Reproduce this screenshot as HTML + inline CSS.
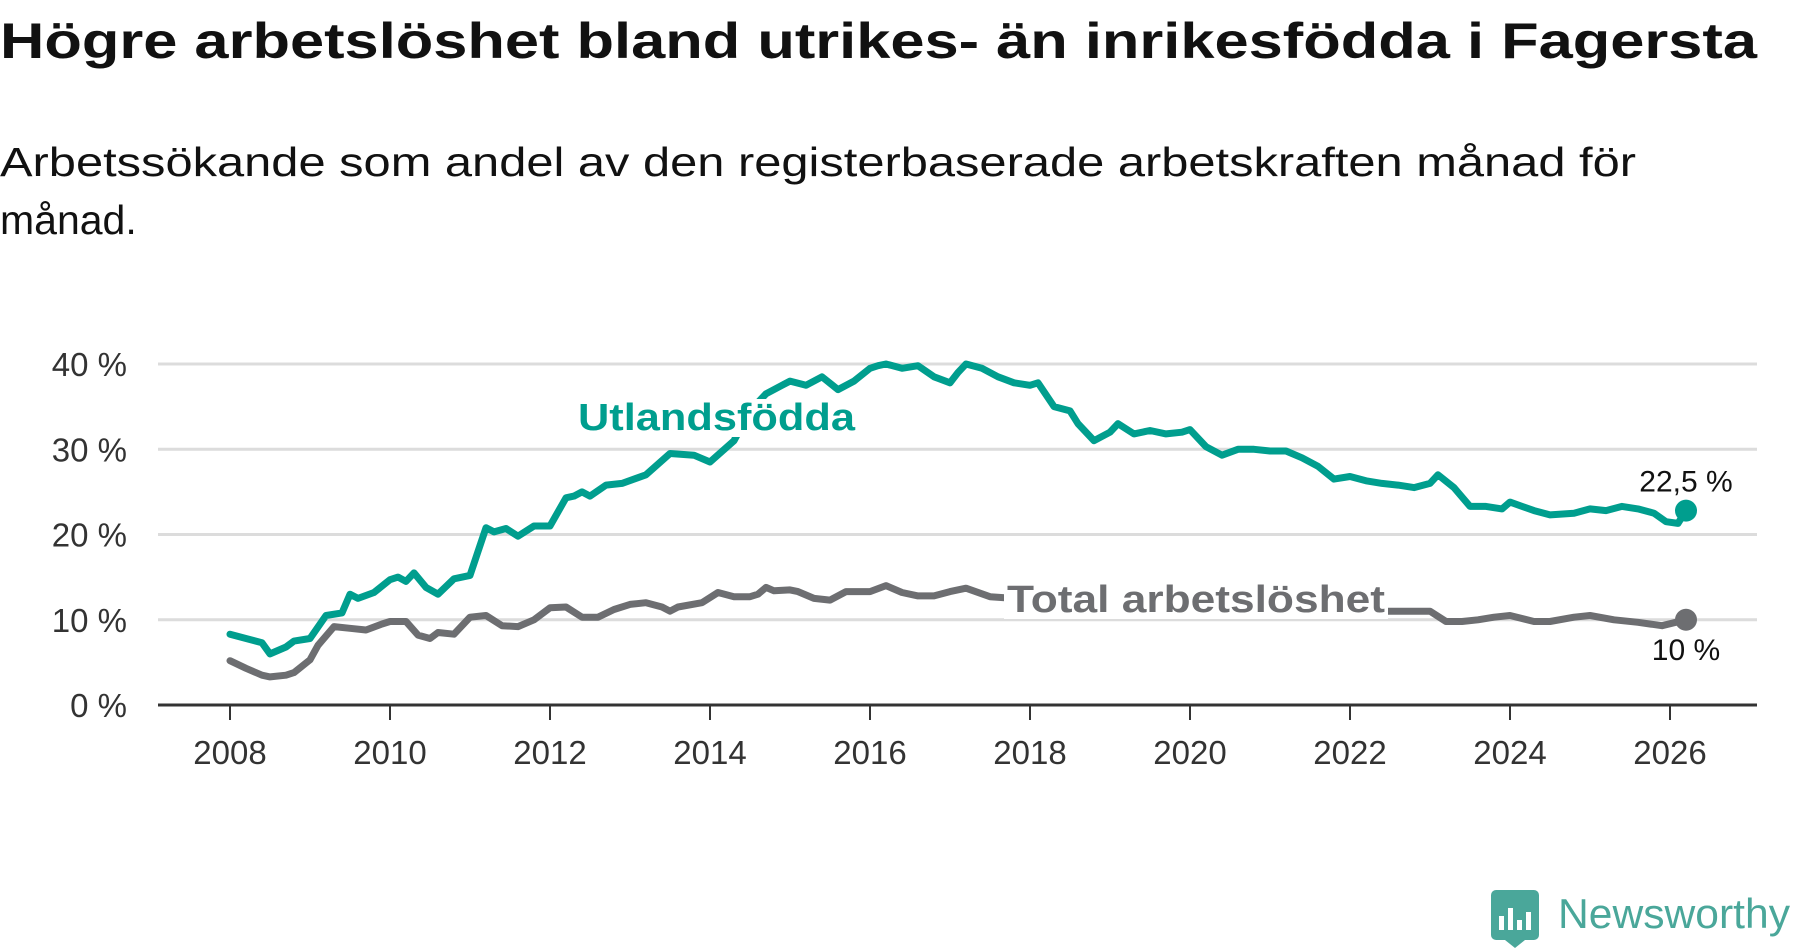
<!DOCTYPE html>
<html><head><meta charset="utf-8"><style>
html,body{margin:0;padding:0;background:#fff;}
svg{display:block;font-family:"Liberation Sans",sans-serif;}
</style></head><body>
<svg id="chart" width="1800" height="948" viewBox="0 0 1800 948">
<text x="0" y="58" font-size="50" font-weight="bold" fill="#111" textLength="1757" lengthAdjust="spacingAndGlyphs">Högre arbetslöshet bland utrikes- än inrikesfödda i Fagersta</text>
<text x="0" y="176" font-size="41" fill="#111" textLength="1636" lengthAdjust="spacingAndGlyphs">Arbetssökande som andel av den registerbaserade arbetskraften månad för</text>
<text x="0" y="234" font-size="41" fill="#111">månad.</text>
<g id="grid"></g>
<g id="yticks"></g>
<g id="xticks"></g>
<g id="series"></g>
<g>
<rect x="1491" y="890" width="48" height="50" rx="5" fill="#4aa79a"/>
<rect x="1499" y="916" width="5" height="14" fill="#fff"/><rect x="1508" y="908" width="5" height="22" fill="#fff"/><rect x="1517" y="920" width="5" height="10" fill="#fff"/><rect x="1526" y="912" width="5" height="18" fill="#fff"/>
<path d="M1505 940 L1515 948 L1525 940 Z" fill="#4aa79a"/>
<text x="1558" y="928" font-size="42" fill="#4aa79a" textLength="232" lengthAdjust="spacingAndGlyphs">Newsworthy</text>
</g>
</svg>
<script>
const yTicks=[0,10,20,30,40];
const yTickLabels=["0 %","10 %","20 %","30 %","40 %"];
const xTicks=[2008,2010,2012,2014,2016,2018,2020,2022,2024,2026];
const utlYears=[2008.0,2008.2,2008.4,2008.5,2008.7,2008.8,2009.0,2009.2,2009.4,2009.5,2009.6,2009.8,2010.0,2010.1,2010.2,2010.3,2010.45,2010.6,2010.8,2011.0,2011.1,2011.2,2011.3,2011.45,2011.6,2011.8,2012.0,2012.2,2012.3,2012.4,2012.5,2012.7,2012.9,2013.2,2013.5,2013.8,2014.0,2014.3,2014.5,2014.7,2014.9,2015.0,2015.2,2015.4,2015.6,2015.8,2016.0,2016.1,2016.2,2016.4,2016.6,2016.8,2017.0,2017.1,2017.2,2017.4,2017.6,2017.8,2018.0,2018.1,2018.3,2018.5,2018.6,2018.8,2019.0,2019.1,2019.3,2019.5,2019.7,2019.9,2020.0,2020.2,2020.4,2020.6,2020.8,2021.0,2021.2,2021.4,2021.6,2021.8,2022.0,2022.2,2022.4,2022.6,2022.8,2023.0,2023.1,2023.3,2023.5,2023.7,2023.9,2024.0,2024.3,2024.5,2024.8,2025.0,2025.2,2025.4,2025.6,2025.8,2025.95,2026.1,2026.2];
const utlValues=[8.3,7.8,7.3,6.0,6.8,7.5,7.8,10.5,10.8,13.0,12.5,13.2,14.7,15.0,14.5,15.5,13.8,13.0,14.8,15.2,18.0,20.8,20.3,20.7,19.8,21.0,21.0,24.3,24.5,25.0,24.5,25.8,26.0,27.0,29.5,29.3,28.5,31.0,34.5,36.5,37.5,38.0,37.5,38.5,37.0,38.0,39.5,39.8,40.0,39.5,39.8,38.5,37.8,39.0,40.0,39.5,38.5,37.8,37.5,37.8,35.0,34.5,33.0,31.0,32.0,33.0,31.8,32.2,31.8,32.0,32.3,30.3,29.3,30.0,30.0,29.8,29.8,29.0,28.0,26.5,26.8,26.3,26.0,25.8,25.5,26.0,27.0,25.5,23.3,23.3,23.0,23.8,22.8,22.3,22.5,23.0,22.8,23.3,23.0,22.5,21.5,21.3,22.8,22.5];
const totYears=[2008.0,2008.2,2008.4,2008.5,2008.7,2008.8,2009.0,2009.1,2009.3,2009.5,2009.7,2009.9,2010.0,2010.2,2010.35,2010.5,2010.6,2010.8,2011.0,2011.2,2011.4,2011.6,2011.8,2012.0,2012.2,2012.4,2012.6,2012.8,2013.0,2013.2,2013.4,2013.5,2013.6,2013.9,2014.1,2014.3,2014.5,2014.6,2014.7,2014.8,2015.0,2015.1,2015.3,2015.5,2015.7,2016.0,2016.2,2016.4,2016.6,2016.8,2017.0,2017.2,2017.5,2017.8,2018.0,2019.0,2020.0,2021.0,2022.0,2022.8,2023.0,2023.2,2023.4,2023.6,2023.8,2024.0,2024.3,2024.5,2024.8,2025.0,2025.3,2025.6,2025.9,2026.2];
const totValues=[5.2,4.3,3.5,3.3,3.5,3.8,5.3,7.0,9.2,9.0,8.8,9.5,9.8,9.8,8.2,7.8,8.5,8.3,10.3,10.5,9.3,9.2,10.0,11.4,11.5,10.3,10.3,11.2,11.8,12.0,11.5,11.0,11.5,12.0,13.2,12.7,12.7,13.0,13.8,13.4,13.5,13.3,12.5,12.3,13.3,13.3,14.0,13.2,12.8,12.8,13.3,13.7,12.7,12.5,12.3,12.0,11.5,11.3,11.0,11.0,11.0,9.8,9.8,10.0,10.3,10.5,9.8,9.8,10.3,10.5,10.0,9.7,9.3,10.0];
const endLabels=["22,5 %","10 %"];
const NS="http://www.w3.org/2000/svg";
const X0=158,X1=1757;
function xs(yr){return 230+(yr-2008)*80;}
function ys(v){return 705-v*8.525;}
function mk(tag,attrs,parent,txt){const e=document.createElementNS(NS,tag);for(const k in attrs)e.setAttribute(k,attrs[k]);if(txt!==undefined)e.textContent=txt;parent.appendChild(e);return e;}
const grid=document.getElementById('grid'),yg=document.getElementById('yticks'),xg=document.getElementById('xticks'),sg=document.getElementById('series');
yTicks.forEach((t,i)=>{
 if(t>0){const l=mk('line',{x1:X0,x2:X1,y1:ys(t),y2:ys(t),stroke:'#dcdcdc','stroke-width':3},grid);
 
 }
 const tx=mk('text',{x:127,y:ys(t)+12,'font-size':33,fill:'#333','text-anchor':'end'},yg,yTickLabels[i]);
 
 
});
const ax=mk('line',{x1:X0,x2:X1,y1:705,y2:705,stroke:'#333','stroke-width':3},xg);


xTicks.forEach(t=>{
 const tk=mk('line',{x1:xs(t),x2:xs(t),y1:705,y2:720,stroke:'#333','stroke-width':2},xg);
 
 
 const tx=mk('text',{x:xs(t),y:764,'font-size':33,fill:'#333','text-anchor':'middle'},xg,String(t));
 
 
});
function line(years,vals,color,name){
 const d=years.map((y,i)=>(i?'L':'M')+xs(y).toFixed(1)+' '+ys(vals[i]).toFixed(1)).join(' ');
 const p=mk('path',{d:d,fill:'none',stroke:color,'stroke-width':7,'stroke-linejoin':'round','stroke-linecap':'round'},sg);
 
 
 const n=years.length-1;
 const c=mk('circle',{cx:xs(years[n]),cy:ys(vals[n]),r:11,fill:color},sg);
 
 
}
line(totYears,totValues,'#6d6e71','total-line');
line(utlYears,utlValues,'#009e8e','utlandsfodda-line');
function label(x,y,txt,color,name,w){
 const r=mk('rect',{x:x-3,y:y-31,width:w+6,height:38,fill:'#fff'},sg);
 
 
 const t=mk('text',{x:x,y:y,'font-size':38,'font-weight':'bold',fill:color,textLength:w,lengthAdjust:'spacingAndGlyphs'},sg,txt);
 
 
}
label(578,430,'Utlandsfödda','#009e8e','utlandsfodda-label',277);
label(1007,612,'Total arbetslöshet','#6d6e71','total-label',378);
const nU=utlYears.length-1,nT=totYears.length-1;
const e1=mk('text',{x:xs(utlYears[nU]),y:ys(utlValues[nU])-19,'font-size':30,fill:'#111','text-anchor':'middle'},sg,endLabels[0]);


const e2=mk('text',{x:xs(totYears[nT]),y:ys(totValues[nT])+40,'font-size':30,fill:'#111','text-anchor':'middle'},sg,endLabels[1]);


</script>
</body></html>
